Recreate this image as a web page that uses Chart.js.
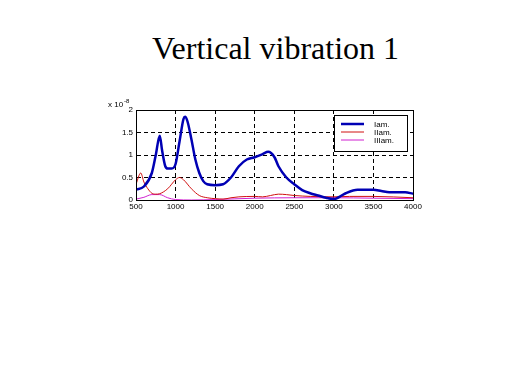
<!DOCTYPE html>
<html>
<head>
<meta charset="utf-8">
<script src="https://cdn.jsdelivr.net/npm/chart.js@4"></script>
<style>
  html, body { margin: 0; padding: 0; background: #fff; }
  #wrap { position: relative; width: 519px; height: 389px; }
  #title { position: absolute; left: 16px; width: 519px; top: 30px; text-align: center;
           font-family: "Liberation Serif", "Times New Roman", serif; font-size: 32px; color: #000; }
  canvas { position: absolute; left: 0; top: 0; }
</style>
</head>
<body>
<div id="wrap">
  <div id="title">Vertical vibration 1</div>
  <canvas id="c" width="519" height="389"></canvas>
</div>
<script>
// --- dados (amplitude em 1e-8) ---
const freqI   = [500, 600, 700, 750, 800, 830, 870, 900, 950, 1000, 1050, 1100, 1120, 1150, 1200, 1250, 1300, 1350, 1400, 1500, 1600, 1700, 1800, 1900, 2000, 2100, 2170, 2250, 2300, 2400, 2500, 2600, 2700, 2800, 2900, 3000, 3050, 3150, 3300, 3500, 3600, 3700, 3900, 4000];
const ampI    = [0.23, 0.3, 0.6, 1.0, 1.43, 1.1, 0.75, 0.7, 0.7, 0.8, 1.3, 1.8, 1.85, 1.75, 1.35, 0.9, 0.6, 0.42, 0.35, 0.33, 0.35, 0.5, 0.75, 0.9, 0.95, 1.02, 1.07, 0.95, 0.75, 0.5, 0.35, 0.22, 0.15, 0.1, 0.05, 0.02, 0.05, 0.15, 0.23, 0.23, 0.2, 0.17, 0.17, 0.14];
const freqII  = [500, 560, 600, 650, 700, 750, 800, 900, 1000, 1050, 1100, 1200, 1300, 1400, 1500, 1600, 1700, 1800, 2000, 2100, 2200, 2300, 2400, 2500, 2700, 3000, 3200, 3500, 4000];
const ampII   = [0.35, 0.6, 0.4, 0.25, 0.15, 0.13, 0.14, 0.25, 0.45, 0.5, 0.45, 0.25, 0.1, 0.05, 0.03, 0.02, 0.05, 0.07, 0.08, 0.07, 0.1, 0.13, 0.12, 0.1, 0.08, 0.07, 0.08, 0.08, 0.05];
const freqIII = [500, 600, 700, 800, 900, 1000, 1200, 1500, 2000, 2500, 3000, 3500, 4000];
const ampIII  = [0.02, 0.06, 0.12, 0.12, 0.05, 0.01, 0, 0.01, 0.04, 0.05, 0.05, 0.04, 0.03];
const seriesLabels = ['Iam.', 'IIam.', 'IIIam.'];
const xTicks = [500, 1000, 1500, 2000, 2500, 3000, 3500, 4000];
const yTicks = [0, 0.5, 1, 1.5, 2];

const pts = (xs, ys) => xs.map((x, i) => ({ x, y: ys[i] }));
const tickFont = { family: 'Liberation Sans, Arial, sans-serif', size: 8 };

// Caixa, expoente e legenda desenhados à mão
const extras = {
    id: 'extras',
    afterDraw(chart) {
        const { ctx, chartArea: a } = chart;
        ctx.save();
        ctx.strokeStyle = '#000';
        ctx.lineWidth = 1;
        ctx.setLineDash([]);
        ctx.strokeRect(a.left + 0.5, a.top + 0.5, a.right - a.left, a.bottom - a.top);

        // x 10^-8
        ctx.fillStyle = '#000';
        ctx.font = '8px Liberation Sans, Arial, sans-serif';
        ctx.textBaseline = 'alphabetic';
        ctx.fillText('x 10', a.left - 28, a.top - 3);
        ctx.font = '6px Liberation Sans, Arial, sans-serif';
        ctx.fillText('-8', a.left - 12, a.top - 7);

        // legenda
        const lx = 334, ly = 115, lw = 73, lh = 36;
        ctx.fillStyle = '#fff';
        ctx.fillRect(lx, ly, lw, lh);
        ctx.strokeRect(lx + 0.5, ly + 0.5, lw, lh);
        ctx.font = '8px Liberation Sans, Arial, sans-serif';
        ctx.textBaseline = 'middle';
        chart.data.datasets.forEach((ds, i) => {
            const y = ly + 9 + i * 8;
            ctx.strokeStyle = ds.borderColor;
            ctx.lineWidth = ds.borderWidth;
            ctx.beginPath();
            ctx.moveTo(lx + 7, y);
            ctx.lineTo(lx + 30, y);
            ctx.stroke();
            ctx.fillStyle = '#000';
            ctx.fillText(ds.label, lx + 40, y + 0.5);
        });
        ctx.restore();
    }
};

new Chart(document.getElementById('c'), {
    type: 'line',
    data: {
        datasets: [
            { label: seriesLabels[0], data: pts(freqI, ampI), borderColor: '#0000b4', borderWidth: 2.5 },
            { label: seriesLabels[1], data: pts(freqII, ampII), borderColor: '#d01010', borderWidth: 1 },
            { label: seriesLabels[2], data: pts(freqIII, ampIII), borderColor: '#d020d0', borderWidth: 1 }
        ]
    },
    options: {
        responsive: false,
        animation: false,
        events: [],
        elements: { point: { radius: 0 }, line: { tension: 0.4, cubicInterpolationMode: 'monotone', fill: false } },
        layout: { padding: { left: 116, right: 106, top: 110, bottom: 174 } },
        plugins: { legend: { display: false }, tooltip: { enabled: false } },
        scales: {
            x: {
                type: 'linear', min: 500, max: 4000,
                afterBuildTicks: s => { s.ticks = xTicks.map(v => ({ value: v })); },
                afterFit: s => { s.height = 15; },
                grid: { color: '#000', drawTicks: false, lineWidth: 1 },
                border: { color: '#000', dash: [4, 3] },
                ticks: { color: '#000', font: tickFont, padding: 2, maxRotation: 0, callback: v => String(v) }
            },
            y: {
                min: 0, max: 2,
                afterBuildTicks: s => { s.ticks = yTicks.map(v => ({ value: v })); },
                afterFit: s => { s.width = 20; },
                grid: { color: '#000', drawTicks: false, lineWidth: 1 },
                border: { color: '#000', dash: [4, 3] },
                ticks: { color: '#000', font: tickFont, padding: 3, callback: v => String(v) }
            }
        }
    },
    plugins: [extras]
});
</script>
</body>
</html>
